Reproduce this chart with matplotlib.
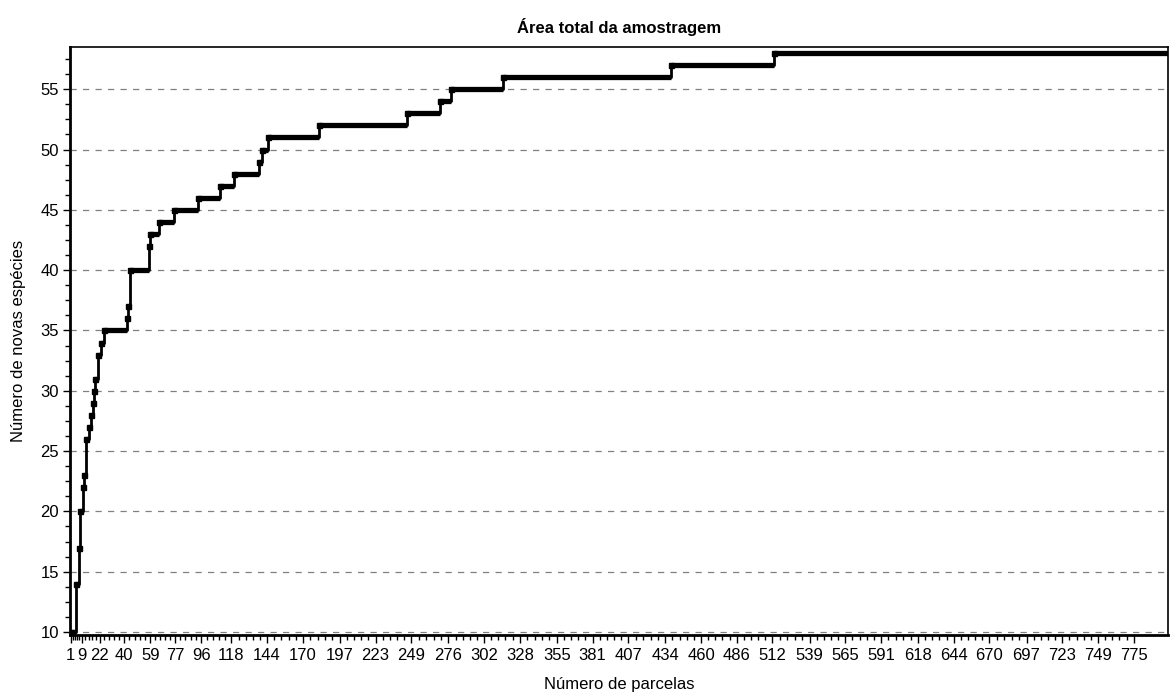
import numpy as np
import matplotlib
matplotlib.use("Agg")
import matplotlib.pyplot as plt
from matplotlib.ticker import AutoMinorLocator, FixedLocator

# ---- data ----
# plot index at which the cumulative species count first reaches each value
step_plot = [1, 5, 7, 8, 10, 11, 12, 14, 16, 17, 18, 19, 21, 23, 25,
             42, 43, 44, 58, 59, 65, 76, 94, 110, 120, 138, 140, 145,
             182, 246, 270, 278, 316, 438, 513]
step_species = [10, 14, 17, 20, 22, 23, 26, 27, 28, 29, 30, 31, 33, 34, 35,
                36, 37, 40, 42, 43, 44, 45, 46, 47, 48, 49, 50, 51,
                52, 53, 54, 55, 56, 57, 58]
n_plots = 800

x_tick_values = [1, 9, 22, 40, 59, 77, 96, 118, 144, 170, 197, 223, 249, 276,
                 302, 328, 355, 381, 407, 434, 460, 486, 512, 539, 565, 591,
                 618, 644, 670, 697, 723, 749, 775]
y_tick_values = [10, 15, 20, 25, 30, 35, 40, 45, 50, 55]

title = "Área total da amostragem"
xlabel = "Número de parcelas"
ylabel = "Número de novas espécies"

# ---- figure ----
plt.rcParams['font.family'] = ['Liberation Sans', 'DejaVu Sans']
fig = plt.figure(figsize=(11.72, 6.96), dpi=100)
ax = fig.add_axes([70/1172, 1-635/696, 1098/1172, 588/696])

xs = np.array(step_plot + [n_plots])
ys = np.array(step_species + [step_species[-1]])

# step curve (thin verticals) and thick horizontals
ax.step(xs, ys, where='post', color='black', lw=2.0, zorder=3,
        solid_capstyle='butt')
ax.hlines(step_species, step_plot, step_plot[1:] + [n_plots],
          color='black', lw=3.8, zorder=3)
ax.plot(step_plot, step_species, ls='none', marker='s', ms=3.6,
        color='black', zorder=4)

ax.set_xlim(0.5, n_plots)
ax.set_ylim(9.75, 58.5)

# grid
ax.set_yticks(y_tick_values)
ax.yaxis.grid(True, color='#808080', lw=0.9, ls=(0, (5, 5)))
ax.xaxis.grid(False)
ax.set_axisbelow(True)
ax.yaxis.set_minor_locator(AutoMinorLocator(4))

ax.set_xticks(x_tick_values)
minor = []
for a, b in zip(x_tick_values[:-1], x_tick_values[1:]):
    minor.extend(np.linspace(a, b, 6)[1:-1])
ax.xaxis.set_minor_locator(FixedLocator(minor))

ax.tick_params(axis='both', which='major', direction='out', length=5,
               width=1, color='black', labelsize=12, pad=3)
ax.tick_params(axis='both', which='minor', direction='out', length=3.5,
               width=1, color='black')
ax.tick_params(axis='x', which='major', length=6)

for s in ['left', 'bottom']:
    ax.spines[s].set_linewidth(2.0)
for s in ['top', 'right']:
    ax.spines[s].set_linewidth(1.2)

ax.set_title(title, fontsize=12, fontweight='bold', pad=10)
ax.set_xlabel(xlabel, fontsize=12)
ax.set_ylabel(ylabel, fontsize=12)
ax.xaxis.set_label_coords(0.5, -0.072)
ax.yaxis.set_label_coords(-0.040, 0.5)

fig.savefig("out.png", dpi=100)
